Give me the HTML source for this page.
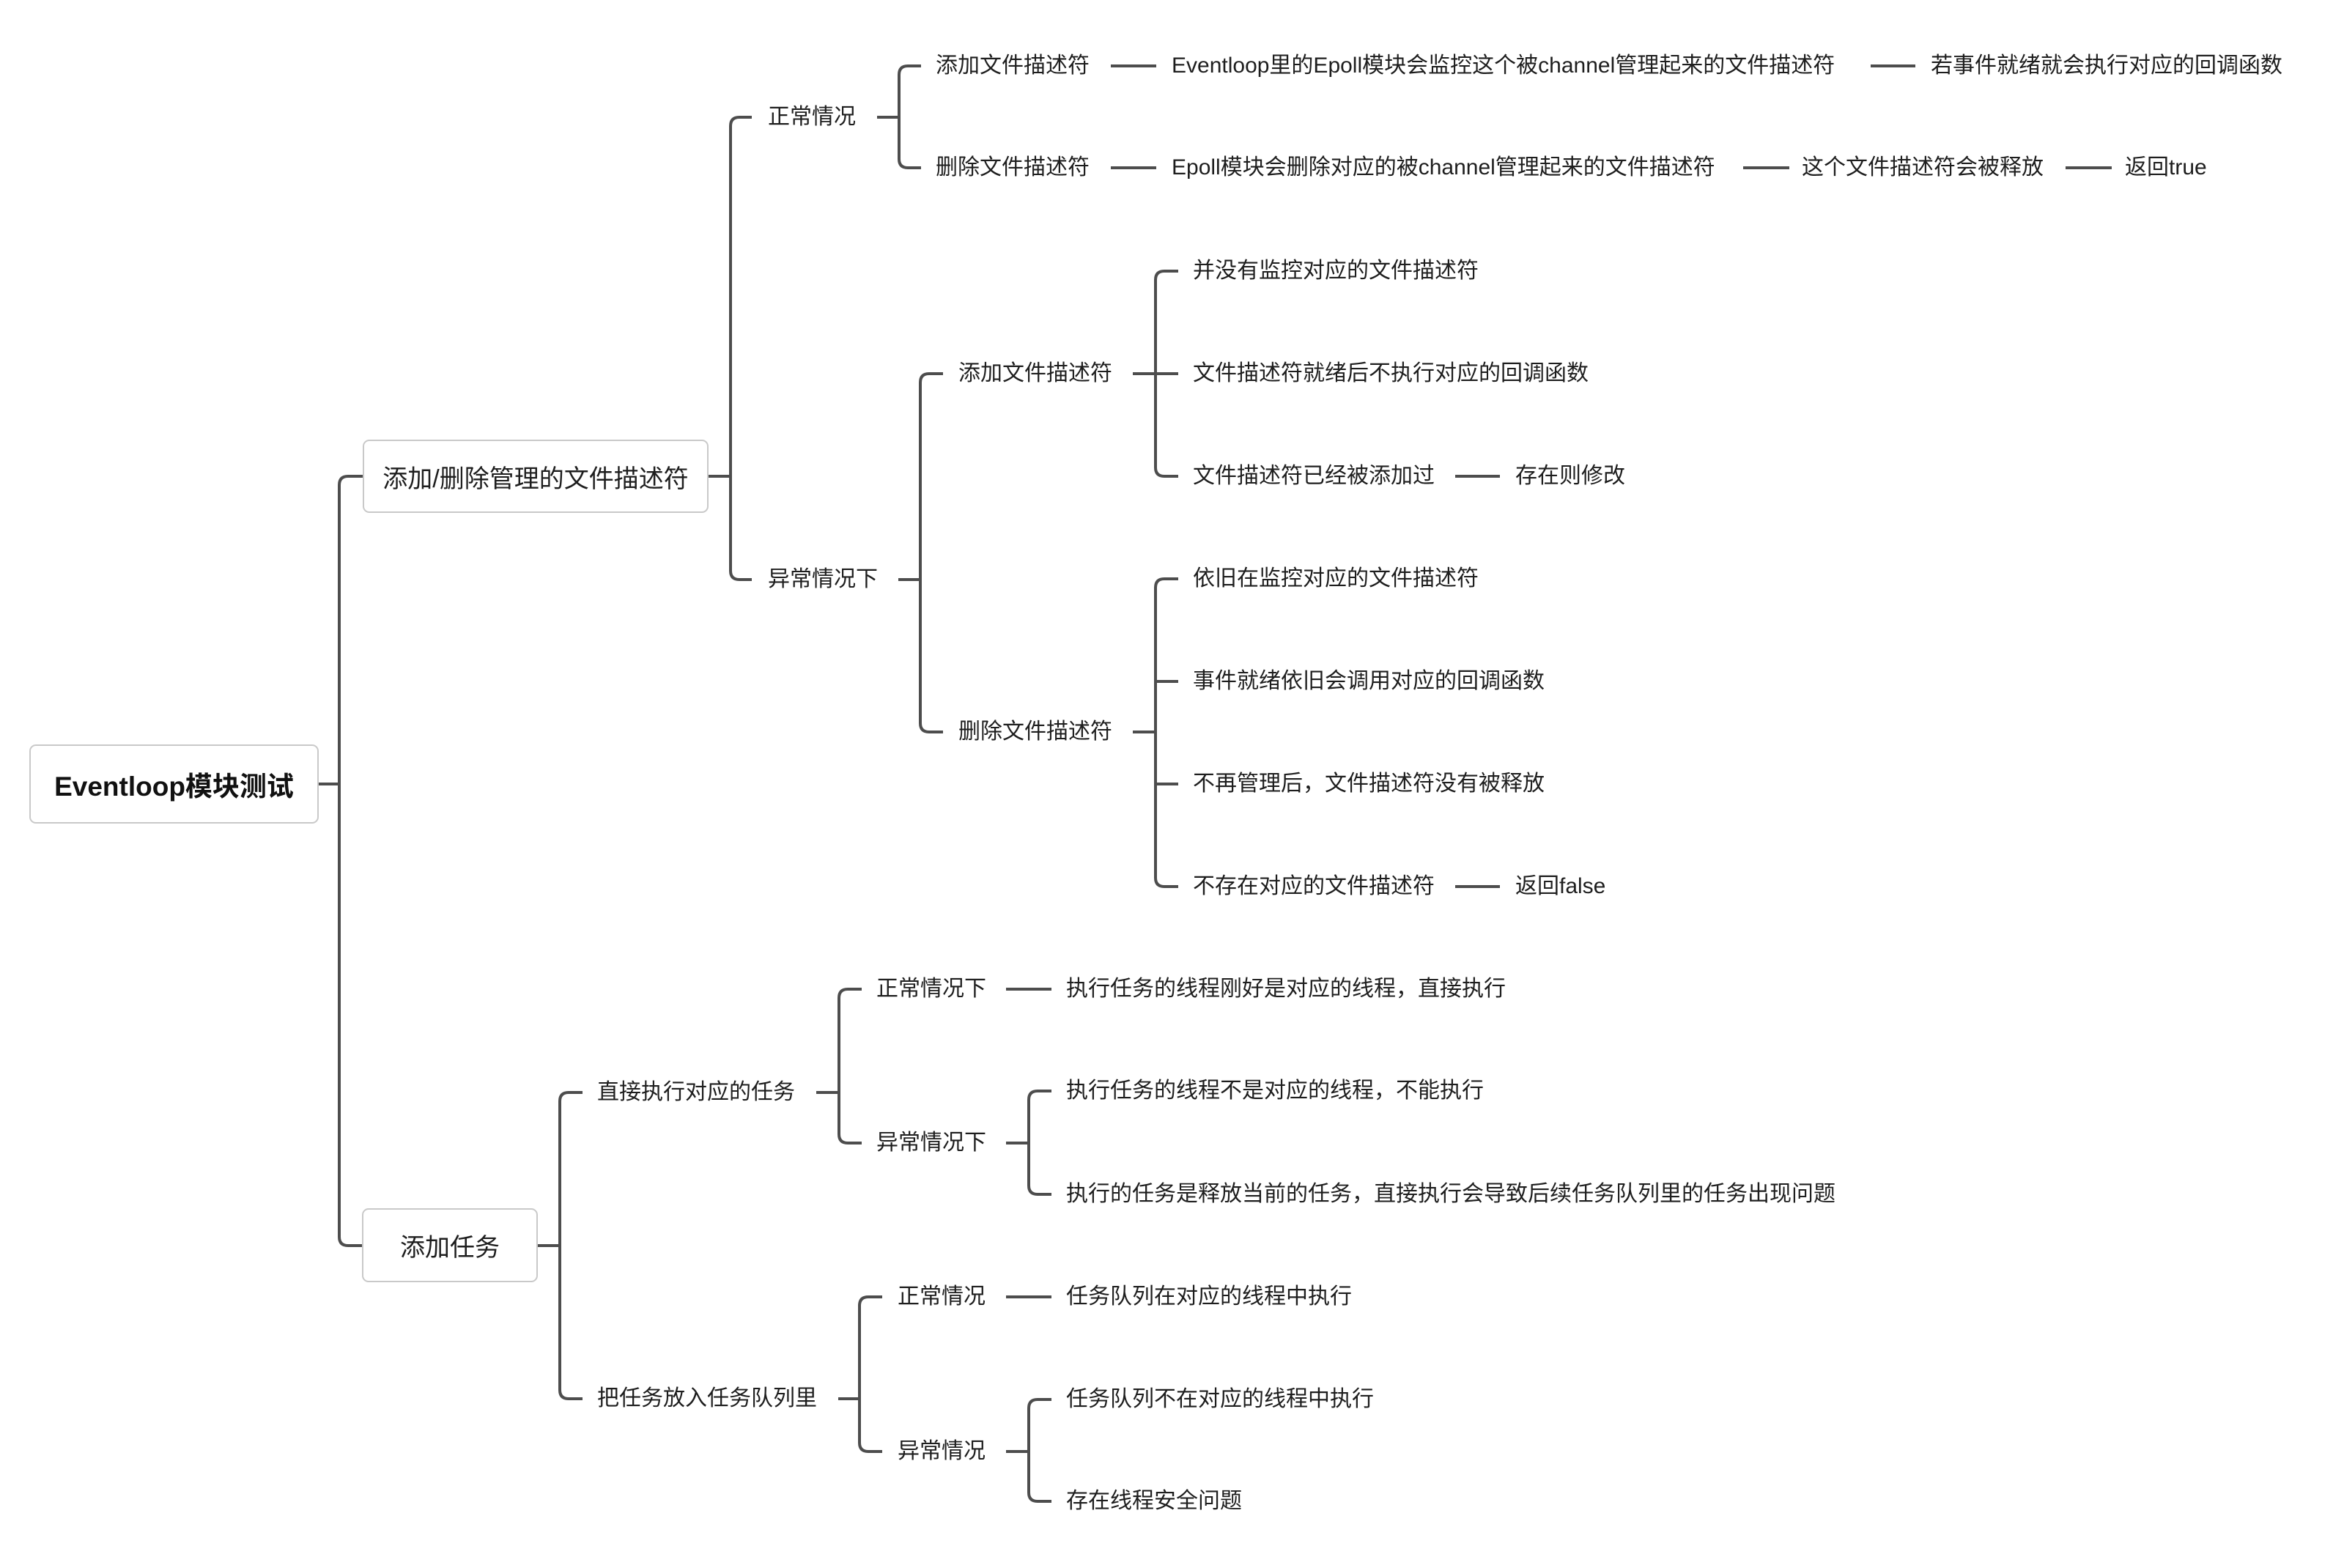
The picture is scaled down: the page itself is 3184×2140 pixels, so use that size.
<!DOCTYPE html>
<html><head><meta charset="utf-8"><style>
html,body{margin:0;padding:0;background:#fff;}
body{width:3184px;height:2140px;position:relative;overflow:hidden;font-family:"Liberation Sans","Noto Sans CJK SC",sans-serif;color:#1e1e1e;}
.t{position:absolute;font-size:30px;line-height:40px;height:40px;white-space:nowrap;}
.box{position:absolute;border:2px solid #c9c9c9;border-radius:9px;background:#fff;box-sizing:border-box;display:flex;align-items:center;justify-content:center;white-space:nowrap;}
svg{position:absolute;left:0;top:0;}
</style></head><body>
<svg width="3184" height="2140" fill="none" stroke="#4d4d4d" stroke-width="4" stroke-linecap="butt">
<!-- root group -->
<path d="M435 1070 H463"/>
<path d="M495 650 H475 Q463 650 463 662 V1688 Q463 1700 475 1700 H494"/>
<!-- box1 group -->
<path d="M967 650 H997"/>
<path d="M1026 160 H1009 Q997 160 997 172 V779 Q997 791 1009 791 H1026"/>
<!-- 正常情况 -->
<path d="M1197 160 H1227"/>
<path d="M1257 90 H1239 Q1227 90 1227 102 V217 Q1227 229 1239 229 H1257"/>
<path d="M1516 90 H1578 M2553 90 H2614"/>
<path d="M1516 229 H1578 M2379 229 H2442 M2819 229 H2882"/>
<!-- 异常情况下 -->
<path d="M1226 791 H1256"/>
<path d="M1287 510 H1268 Q1256 510 1256 522 V987 Q1256 999 1268 999 H1287"/>
<path d="M1546 510 H1608"/>
<path d="M1608 370 H1589 Q1577 370 1577 382 V638 Q1577 650 1589 650 H1608"/>
<path d="M1986 650 H2047"/>
<path d="M1546 999 H1577"/>
<path d="M1608 790 H1589 Q1577 790 1577 802 V1198 Q1577 1210 1589 1210 H1608"/>
<path d="M1577 930 H1608 M1577 1070 H1608"/>
<path d="M1986 1210 H2047"/>
<!-- 添加任务 -->
<path d="M734 1700 H764"/>
<path d="M795 1491 H776 Q764 1491 764 1503 V1897 Q764 1909 776 1909 H795"/>
<path d="M1114 1491 H1145"/>
<path d="M1176 1350 H1157 Q1145 1350 1145 1362 V1548 Q1145 1560 1157 1560 H1176"/>
<path d="M1373 1350 H1435"/>
<path d="M1373 1560 H1404"/>
<path d="M1435 1489 H1416 Q1404 1489 1404 1501 V1618 Q1404 1630 1416 1630 H1435"/>
<path d="M1144 1909 H1173"/>
<path d="M1204 1770 H1185 Q1173 1770 1173 1782 V1969 Q1173 1981 1185 1981 H1204"/>
<path d="M1373 1770 H1435"/>
<path d="M1373 1981 H1404"/>
<path d="M1435 1910 H1416 Q1404 1910 1404 1922 V2037 Q1404 2049 1416 2049 H1435"/>
</svg>

<div class="box" style="left:40px;top:1016px;width:395px;height:108px;font-size:37px;font-weight:bold;color:#111;">Eventloop模块测试</div>
<div class="box" style="left:495px;top:600px;width:472px;height:100px;font-size:34px;">添加/删除管理的文件描述符</div>
<div class="box" style="left:494px;top:1649px;width:240px;height:101px;font-size:34px;">添加任务</div>

<div class="t" style="left:1048px;top:140px;">正常情况</div>
<div class="t" style="left:1048px;top:771px;">异常情况下</div>
<div class="t" style="left:1277px;top:70px;">添加文件描述符</div>
<div class="t" style="left:1277px;top:209px;">删除文件描述符</div>
<div class="t" style="left:1599px;top:70px;">Eventloop里的Epoll模块会监控这个被channel管理起来的文件描述符</div>
<div class="t" style="left:2635px;top:70px;">若事件就绪就会执行对应的回调函数</div>
<div class="t" style="left:1599px;top:209px;">Epoll模块会删除对应的被channel管理起来的文件描述符</div>
<div class="t" style="left:2459px;top:209px;">这个文件描述符会被释放</div>
<div class="t" style="left:2900px;top:209px;">返回true</div>

<div class="t" style="left:1308px;top:490px;">添加文件描述符</div>
<div class="t" style="left:1308px;top:979px;">删除文件描述符</div>
<div class="t" style="left:1628px;top:350px;">并没有监控对应的文件描述符</div>
<div class="t" style="left:1628px;top:490px;">文件描述符就绪后不执行对应的回调函数</div>
<div class="t" style="left:1628px;top:630px;">文件描述符已经被添加过</div>
<div class="t" style="left:2068px;top:630px;">存在则修改</div>
<div class="t" style="left:1628px;top:770px;">依旧在监控对应的文件描述符</div>
<div class="t" style="left:1628px;top:910px;">事件就绪依旧会调用对应的回调函数</div>
<div class="t" style="left:1628px;top:1050px;">不再管理后，文件描述符没有被释放</div>
<div class="t" style="left:1628px;top:1190px;">不存在对应的文件描述符</div>
<div class="t" style="left:2068px;top:1190px;">返回false</div>

<div class="t" style="left:815px;top:1471px;">直接执行对应的任务</div>
<div class="t" style="left:815px;top:1889px;">把任务放入任务队列里</div>
<div class="t" style="left:1196px;top:1330px;">正常情况下</div>
<div class="t" style="left:1196px;top:1540px;">异常情况下</div>
<div class="t" style="left:1455px;top:1330px;">执行任务的线程刚好是对应的线程，直接执行</div>
<div class="t" style="left:1455px;top:1469px;">执行任务的线程不是对应的线程，不能执行</div>
<div class="t" style="left:1455px;top:1610px;">执行的任务是释放当前的任务，直接执行会导致后续任务队列里的任务出现问题</div>
<div class="t" style="left:1225px;top:1750px;">正常情况</div>
<div class="t" style="left:1225px;top:1961px;">异常情况</div>
<div class="t" style="left:1455px;top:1750px;">任务队列在对应的线程中执行</div>
<div class="t" style="left:1455px;top:1890px;">任务队列不在对应的线程中执行</div>
<div class="t" style="left:1455px;top:2029px;">存在线程安全问题</div>
</body></html>
